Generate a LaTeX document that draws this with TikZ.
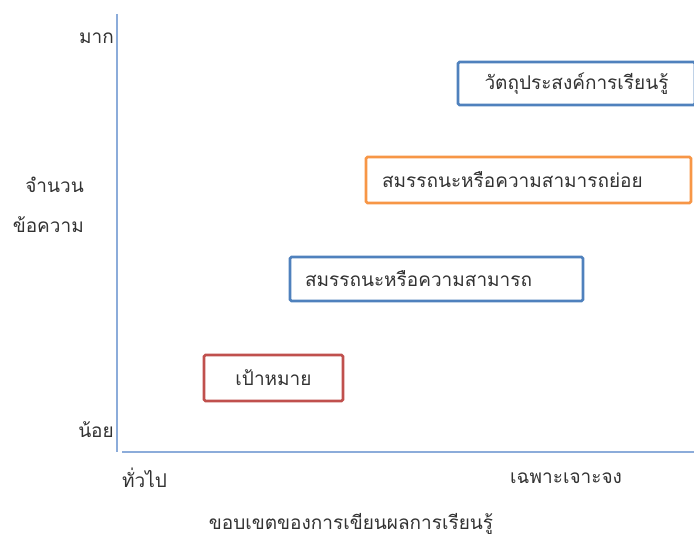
\documentclass[tikz,border=0pt]{standalone}
\usepackage{fontspec}
\usepackage{xcolor}
\usetikzlibrary{positioning}
\newfontfamily\thaifont[Script=Thai]{Loma}
\definecolor{axisblue}{RGB}{140,172,218}
\definecolor{boxblue}{RGB}{79,129,189}
\definecolor{boxorange}{RGB}{247,150,70}
\definecolor{boxred}{RGB}{192,80,77}
\definecolor{txt}{RGB}{50,50,50}

\tikzset{
  lbl/.style={font=\thaifont\fontsize{19}{22}\selectfont, text=txt, inner sep=0pt},
  levelbox/.style={lbl, line width=2.6pt, rounded corners=1.5pt, fill=white},
}

\begin{document}
\begin{tikzpicture}[x=1pt, y=-1pt]
\useasboundingbox (0,0) rectangle (694,540);
% Axes
\coordinate (ytop) at (117,14);
\coordinate (ybot) at (117,452);
\coordinate (xleft) at (122,452);
\coordinate (xright) at (694,452);
\draw[axisblue, line width=1.3pt] (ytop) -- (ybot);
\draw[axisblue, line width=1.3pt] (xleft) -- (xright);
% Axis labels
\node[lbl, anchor=east] (many) at (114,38) {มาก};
\node[lbl, anchor=east] (few) at (114,430) {น้อย};
\node[lbl, anchor=east] (amount) at (84,185) {จำนวน};
\node[lbl, anchor=east] (items) at (84,225) {ข้อความ};
\node[lbl, anchor=west] (general) at (122,478) {ทั่วไป};
\node[lbl, anchor=west] (specific) at (510,478) {เฉพาะเจาะจง};
\node[lbl] (scope) at (351,524) {ขอบเขตของการเขียนผลการเรียนรู้};
% Levels
\node[levelbox, draw=boxblue, minimum width=237pt, minimum height=43pt] (objective) at (576.5,83.5) {วัตถุประสงค์การเรียนรู้};
\node[levelbox, draw=boxorange, minimum width=325pt, minimum height=46pt,
      text width=293pt, align=left] (subcomp) at (528.5,180) {สมรรถนะหรือความสามารถย่อย};
\node[levelbox, draw=boxblue, minimum width=293pt, minimum height=44pt,
      text width=263pt, align=left] (comp) at (436.5,279) {สมรรถนะหรือความสามารถ};
\node[levelbox, draw=boxred, minimum width=139pt, minimum height=46pt] (goal) at (273.5,378) {เป้าหมาย};
\end{tikzpicture}
\end{document}
